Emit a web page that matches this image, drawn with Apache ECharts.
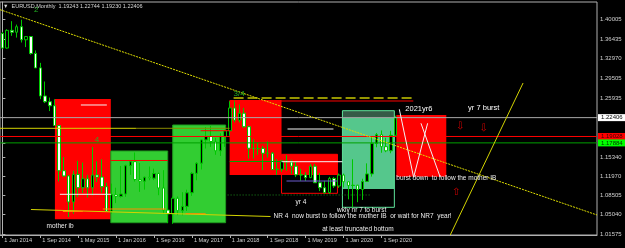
<!DOCTYPE html>
<html><head><meta charset="utf-8">
<script src="https://cdn.jsdelivr.net/npm/echarts@6/dist/echarts.min.js"></script>
<style>html,body{margin:0;padding:0;background:#000}#c{width:625px;height:248px}</style>
</head><body><div id="c"></div>
<script>
// ---------- data (monthly EURUSD, Jan 2014 .. Dec 2020) ----------
const monthNames = ['Jan','Feb','Mar','Apr','May','Jun','Jul','Aug','Sep','Oct','Nov','Dec'];
const firstYear = 2014;
const totalSlots = 126; // chart width incl. right shift
const open = [1.3745,1.3486,1.3803,1.3769,1.3868,1.3634,1.3692,1.3389,1.3131,1.2628,1.2525,1.2453,
 1.2098,1.1290,1.1197,1.0731,1.1224,1.0987,1.1146,1.0985,1.1213,1.1177,1.1005,1.0566,
 1.0861,1.0830,1.0873,1.1380,1.1452,1.1132,1.1103,1.1174,1.1157,1.1240,1.0981,1.0586,
 1.0517,1.0798,1.0575,1.0652,1.0895,1.1244,1.1425,1.1842,1.1905,1.1813,1.1646,1.1903,
 1.2005,1.2414,1.2194,1.2320,1.2078,1.1693,1.1684,1.1690,1.1603,1.1604,1.1311,1.1317,
 1.1466,1.1445,1.1371,1.1217,1.1214,1.1167,1.1371,1.1075,1.0986,1.0899,1.1152,1.1017,
 1.1213,1.1092,1.1026,1.1031,1.0955,1.1098,1.1233,1.1779,1.1936,1.1721,1.1647,1.19243];
const close = [1.3486,1.3803,1.3769,1.3868,1.3634,1.3692,1.3389,1.3131,1.2628,1.2525,1.2453,1.2098,
 1.1290,1.1197,1.0731,1.1224,1.0987,1.1146,1.0985,1.1213,1.1177,1.1005,1.0566,1.0861,
 1.0830,1.0873,1.1380,1.1452,1.1132,1.1103,1.1174,1.1157,1.1240,1.0981,1.0586,1.0517,
 1.0798,1.0575,1.0652,1.0895,1.1244,1.1425,1.1842,1.1905,1.1813,1.1646,1.1903,1.2005,
 1.2414,1.2194,1.2320,1.2078,1.1693,1.1684,1.1690,1.1603,1.1604,1.1311,1.1317,1.1466,
 1.1445,1.1371,1.1217,1.1214,1.1167,1.1371,1.1075,1.0986,1.0899,1.1152,1.1017,1.1213,
 1.1092,1.1026,1.1031,1.0955,1.1098,1.1233,1.1779,1.1936,1.1721,1.1647,1.1924,1.22406];
const high = [1.3775,1.3823,1.3967,1.3906,1.3993,1.3700,1.3700,1.3444,1.3221,1.2887,1.2600,1.2570,
 1.2105,1.1534,1.1215,1.1290,1.1467,1.1436,1.1216,1.1714,1.1460,1.1495,1.1075,1.1060,
 1.0986,1.1376,1.1400,1.1464,1.1616,1.1428,1.1186,1.1366,1.1328,1.1257,1.1300,1.0875,
 1.0829,1.0829,1.0906,1.0951,1.1268,1.1445,1.1846,1.2070,1.2092,1.1880,1.1961,1.2023,
 1.2537,1.2555,1.2476,1.2414,1.2096,1.1852,1.1791,1.1733,1.1815,1.1625,1.1500,1.1486,
 1.1570,1.1489,1.1448,1.1324,1.1265,1.1412,1.1412,1.1250,1.1110,1.1180,1.1176,1.1240,
 1.1239,1.1096,1.1495,1.1039,1.1147,1.1422,1.1909,1.1966,1.2011,1.1881,1.2004,1.22744];
const low = [1.3477,1.3476,1.3705,1.3673,1.3585,1.3503,1.3366,1.3131,1.2571,1.2501,1.2358,1.2098,
 1.1098,1.1177,1.0462,1.0520,1.0819,1.0888,1.0809,1.0848,1.1087,1.0897,1.0557,1.0523,
 1.0710,1.0810,1.0823,1.1217,1.1097,1.0912,1.0952,1.1120,1.1122,1.0852,1.0518,1.0352,
 1.0340,1.0494,1.0493,1.0570,1.0839,1.1119,1.1312,1.1688,1.1717,1.1575,1.1554,1.1718,
 1.1915,1.2154,1.2155,1.2055,1.1510,1.1508,1.1575,1.1301,1.1526,1.1302,1.1216,1.1269,
 1.1289,1.1234,1.1176,1.1111,1.1107,1.1158,1.1071,1.0926,1.0879,1.0880,1.0981,1.0981,
 1.0992,1.0778,1.0636,1.0727,1.0767,1.1097,1.1185,1.1710,1.1612,1.1622,1.1603,1.19230];

const titleText = '\u25BC  EURUSD,Monthly  1.19243 1.22744 1.19230 1.22406';
const priceTicks = [1.40005,1.36435,1.32970,1.29505,1.25935,1.15340,1.11970,1.08505,1.05040,1.01575];
const bidPrice = 1.22406, redLevel = 1.19028, greenLevel = 1.17884;
const boxedPrices = [bidPrice, redLevel, greenLevel];
const yMin = 1.01397, yMax = 1.43102;

// annotations in (month index from Jan 2014, price)
const redBoxes = [[11.09,1.2574,22.89,1.04207],[47.96,1.25561,58.92,1.12137],[83.15,1.22876,93.69,1.11832],[58.92,1.15842,70.72,1.12137]];
const redOutlineBoxes = [[58.92,1.15842,70.72,1.0886]];
const greenBoxes = [[22.89,1.16433,34.9,1.03598],[35.95,1.21086,47.12,1.03598]];
const mintBoxes = [[71.77,1.22339,82.73,1.0963]];
const darkBandBoxes = [[71.77,1.23646,82.73,1.22339]];
const mintOutline = [[71.77,1.23646,82.73,1.06355]];

const trendLines = [[-0.5,1.41731,125.5,1.0498]];
const yellowLines = [[94.53,1.01397,109.9,1.28604],[6.03,1.05961,56.6,1.04708],[-0.5,1.20495,28.2,1.20495]];
const oliveLines = [[28.2,1.20495,47.96,1.20495]];
const orangeLines = [[12.77,1.05603,16.99,1.05603],[21.2,1.0605,34.48,1.0605],[38.69,1.05209,42.9,1.05209]];
const levelLinesGray = [[-0.5,bidPrice,125.5,bidPrice]];
const levelLinesRed = [[-0.5,redLevel,125.5,redLevel],[22.89,1.14732,34.9,1.14732],[41.85,1.20066,47.96,1.20066],[47.96,1.25382,86.73,1.25382]];
const levelLinesGreen = [[-0.5,greenLevel,125.5,greenLevel],[47.96,1.14553,58.92,1.14553]];
const whiteLines = [[16.57,1.24666,22.05,1.24666],[12.14,1.08681,22.89,1.08681],[58.92,1.14517,71.77,1.14517],[60.18,1.2037,69.88,1.2037],
  [83.78,1.23897,86.8,1.11725],[86.8,1.11725,89.75,1.21391],[88.35,1.21391,92.42,1.11725]];
const purpleLines = [[59.97,1.11062,70.72,1.11062]];
const dottedGreenLines = [[47.54,1.08557,77.67,1.08557]];
const dashedYellowLines = [[48.8,1.25919,86.73,1.25919]];

const noteTexts = ['mother ib','yr 4','wkly nr 7 to burst','NR 4  now burst to follow the mother IB  or wait for NR7  year!','at least truncated bottom','burst down  to follow the mother IB'];
const notePos = [[9.33,1.03008],[61.87,1.07304],[70.65,1.05871],[57.23,1.04797],[67.49,1.02416],[83.15,1.11546]];
const bigTexts = ['2021yr6','yr 7 burst'];
const bigPos = [[85.05,1.23897],[98.3,1.24076]];
const waveTexts = ['2','4','3/4'];
const wavePos = [[6.66,1.4176],[19.52,1.18402],[48.8,1.26724]];
const arrowTexts = ['\u21E9','\u21E9','\u21E7'];
const arrowPos = [[96.6,1.20907],[101.6,1.20549],[95.76,1.09094]];

// ---------- build ----------
const categories = [];
for (let i = 0; i < totalSlots; i++) categories.push('1 ' + monthNames[i % 12] + ' ' + (firstYear + Math.floor(i / 12)));
const candles = open.map((o, i) => [o, close[i], low[i], high[i]]);
const FONT = 'Liberation Sans';

function rectSeries(data, style, z) {
  return { type: 'custom', xAxisIndex: 1, yAxisIndex: 0, z, silent: true, data,
    renderItem: (p, api) => {
      const a = api.coord([api.value(0), api.value(1)]), b = api.coord([api.value(2), api.value(3)]);
      return { type: 'rect', shape: { x: Math.min(a[0], b[0]), y: Math.min(a[1], b[1]), width: Math.abs(b[0] - a[0]), height: Math.abs(b[1] - a[1]) }, style };
    } };
}
function lineSeries(data, style, z) {
  return { type: 'custom', xAxisIndex: 1, yAxisIndex: 0, z, silent: true, data,
    renderItem: (p, api) => {
      const a = api.coord([api.value(0), api.value(1)]), b = api.coord([api.value(2), api.value(3)]);
      return { type: 'line', shape: { x1: a[0], y1: a[1], x2: b[0], y2: b[1] }, style };
    } };
}
function textSeries(pos, texts, style, align, z) {
  return { type: 'custom', xAxisIndex: 1, yAxisIndex: 0, z, silent: true, data: pos,
    renderItem: (p, api) => {
      const a = api.coord([api.value(0), api.value(1)]);
      return { type: 'text', x: a[0], y: a[1], style: Object.assign({ text: texts[p.dataIndex], align: align, verticalAlign: 'middle' }, style) };
    } };
}
const boxStyles = [
  { backgroundColor: '#ffffff', fill: '#000000' },
  { backgroundColor: '#ff0000', fill: '#3a0000' },
  { backgroundColor: '#00ff00', fill: '#003000' }
];

const chart = echarts.init(document.getElementById('c'), null, { renderer: 'canvas' });
chart.setOption({
  backgroundColor: '#000',
  animation: false,
  title: { text: titleText, left: 3, top: 3, padding: 0, textStyle: { color: '#d8d8d8', fontSize: 5.5, fontWeight: 'normal', fontFamily: FONT } },
  grid: { left: -1, right: 28, top: 2, bottom: 13, show: true, borderColor: '#b0b0b0', borderWidth: 1, backgroundColor: 'transparent' },
  xAxis: [
    { type: 'category', data: categories, boundaryGap: true,
      axisLine: { show: true, lineStyle: { color: '#b0b0b0' } },
      axisTick: { show: true, alignWithLabel: true, length: 3, interval: (i) => i % 8 === 0 && i <= 80, lineStyle: { color: '#b0b0b0' } },
      axisLabel: { interval: (i) => i % 8 === 0 && i <= 80, color: '#d0d0d0', fontSize: 5.6, fontFamily: FONT, align: 'left', margin: 2, padding: [0, 0, 0, 2] },
      splitLine: { show: false } },
    { type: 'value', min: -0.5, max: totalSlots - 0.5, show: false }
  ],
  yAxis: { type: 'value', position: 'right', min: yMin, max: yMax, scale: true,
    axisLine: { show: true, lineStyle: { color: '#b0b0b0' } },
    axisTick: { show: true, length: 3, customValues: priceTicks.concat(boxedPrices), lineStyle: { color: '#b0b0b0' } },
    axisLabel: { customValues: priceTicks, color: '#d0d0d0', fontSize: 6, fontFamily: FONT, margin: 3,
      formatter: (v) => v.toFixed(5) },
    splitLine: { show: false } },
  series: [
    rectSeries(redBoxes, { fill: '#ff0000' }, 1),
    rectSeries(greenBoxes, { fill: '#32cd32', stroke: '#1f9a1f', lineWidth: 1 }, 1),
    rectSeries(darkBandBoxes, { fill: '#355a47' }, 1),
    rectSeries(mintBoxes, { fill: '#55c78c' }, 1),
    rectSeries(mintOutline, { fill: 'none', stroke: '#5ee39a', lineWidth: 1 }, 1),
    rectSeries(redOutlineBoxes, { fill: 'none', stroke: '#ff0000', lineWidth: 1 }, 1),
    { type: 'candlestick', xAxisIndex: 0, yAxisIndex: 0, z: 3, barWidth: 3, data: candles,
      itemStyle: { color: '#000000', color0: '#ffffff', borderColor: '#00c800', borderColor0: '#00c800', borderWidth: 1 } },
    lineSeries(levelLinesGray, { stroke: '#a8a8a8', lineWidth: 1 }, 4),
    lineSeries(levelLinesRed, { stroke: '#ff0000', lineWidth: 1 }, 4),
    lineSeries(levelLinesGreen, { stroke: '#00a000', lineWidth: 1 }, 4),
    lineSeries(trendLines, { stroke: '#e0e000', lineWidth: 1, lineDash: [2, 1] }, 5),
    lineSeries(yellowLines, { stroke: '#d4d400', lineWidth: 1 }, 5),
    lineSeries(oliveLines, { stroke: '#8a8a00', lineWidth: 1 }, 5),
    lineSeries(orangeLines, { stroke: '#ff8c00', lineWidth: 1 }, 5),
    lineSeries(whiteLines, { stroke: '#f4f4f4', lineWidth: 1 }, 5),
    lineSeries(purpleLines, { stroke: '#6a5acd', lineWidth: 1 }, 5),
    lineSeries(dottedGreenLines, { stroke: '#1c8c1c', lineWidth: 1, lineDash: [1, 2] }, 5),
    lineSeries(dashedYellowLines, { stroke: '#c8c800', lineWidth: 1.5, lineDash: [10, 4] }, 5),
    textSeries(notePos, noteTexts, { fill: '#ececec', fontSize: 6.5, fontFamily: FONT }, 'left', 6),
    textSeries(bigPos, bigTexts, { fill: '#ffffff', fontSize: 7.5, fontFamily: FONT }, 'left', 6),
    textSeries(wavePos, waveTexts, { fill: '#22b022', fontSize: 8, fontFamily: FONT }, 'left', 6),
    textSeries(arrowPos, arrowTexts, { fill: '#cc0000', fontSize: 10, fontFamily: 'DejaVu Sans' }, 'center', 6),
    { type: 'custom', xAxisIndex: 1, yAxisIndex: 0, z: 10, silent: true, clip: false,
      data: boxedPrices.map(v => [totalSlots - 0.5, v]),
      renderItem: (p, api) => {
        const a = api.coord([api.value(0), api.value(1)]);
        return { type: 'text', x: a[0] + 1, y: a[1], style: Object.assign({
          text: api.value(1).toFixed(5), align: 'left', verticalAlign: 'middle', fontSize: 6, fontFamily: FONT,
          padding: [1, 3, 0, 3] }, boxStyles[p.dataIndex]) };
      } }
  ]
});
</script></body></html>
